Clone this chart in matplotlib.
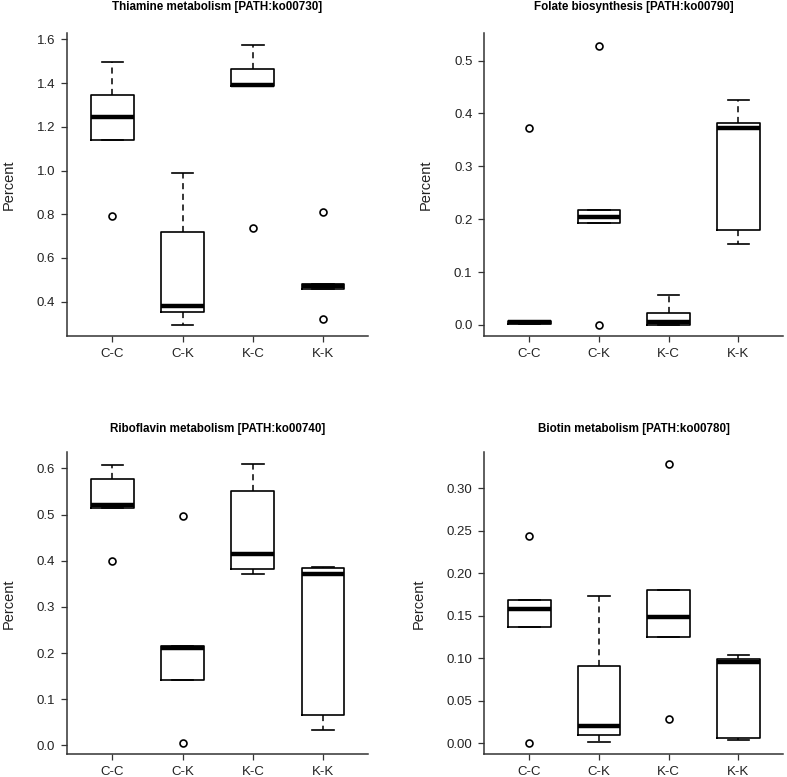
import matplotlib
matplotlib.use('Agg')
import matplotlib.pyplot as plt

plt.rcParams['font.family'] = ['Liberation Sans', 'DejaVu Sans']

groups = ['C-C', 'C-K', 'K-C', 'K-K']

titles = ['Thiamine metabolism [PATH:ko00730]',
          'Folate biosynthesis [PATH:ko00790]',
          'Riboflavin metabolism [PATH:ko00740]',
          'Biotin metabolism [PATH:ko00780]']

# box stats per panel: (whislo, q1, med, q3, whishi, fliers) for C-C, C-K, K-C, K-K
thiamine = [(1.14, 1.14, 1.245, 1.345, 1.495, [0.79]),
            (0.295, 0.355, 0.38, 0.72, 0.99, []),
            (1.385, 1.385, 1.39, 1.465, 1.575, [0.735]),
            (0.46, 0.46, 0.47, 0.48, 0.48, [0.81, 0.32])]
folate = [(0.001, 0.001, 0.005, 0.007, 0.007, [0.373]),
          (0.193, 0.193, 0.205, 0.217, 0.217, [0.528, 0.0]),
          (0.0, 0.0, 0.005, 0.023, 0.056, []),
          (0.153, 0.18, 0.372, 0.382, 0.425, [])]
riboflavin = [(0.515, 0.515, 0.52, 0.578, 0.607, [0.40]),
              (0.142, 0.142, 0.21, 0.215, 0.215, [0.497, 0.005]),
              (0.371, 0.383, 0.415, 0.551, 0.61, []),
              (0.034, 0.065, 0.371, 0.384, 0.386, [])]
biotin = [(0.137, 0.137, 0.158, 0.168, 0.168, [0.244, 0.0]),
          (0.002, 0.01, 0.02, 0.091, 0.173, []),
          (0.125, 0.125, 0.148, 0.18, 0.18, [0.328, 0.029]),
          (0.004, 0.006, 0.095, 0.099, 0.104, [])]

panel_data = [thiamine, folate, riboflavin, biotin]
y_limits = [(0.243, 1.629), (-0.0208, 0.552), (-0.0195, 0.635), (-0.0129, 0.342)]
y_ticks = [[0.4, 0.6, 0.8, 1.0, 1.2, 1.4, 1.6],
           [0.0, 0.1, 0.2, 0.3, 0.4, 0.5],
           [0.0, 0.1, 0.2, 0.3, 0.4, 0.5, 0.6],
           [0.0, 0.05, 0.10, 0.15, 0.20, 0.25, 0.30]]
y_fmt = ['%.1f', '%.1f', '%.1f', '%.2f']

W, H = 787, 777
fig = plt.figure(figsize=(W / 100, H / 100), dpi=100)

# axes boxes in pixels: left, right, top, bottom
px_boxes = [(66.7, 368, 33, 336), (484, 783, 33, 336),
            (66.7, 368, 452.3, 754.3), (484, 783, 452.3, 754.3)]

for i in range(4):
    l, r, t, b = px_boxes[i]
    ax = fig.add_axes([l / W, 1 - b / H, (r - l) / W, (b - t) / H])
    stats = []
    for g, (lo, q1, med, q3, hi, fl) in zip(groups, panel_data[i]):
        stats.append(dict(label=g, whislo=lo, q1=q1, med=med, q3=q3, whishi=hi, fliers=fl))
    ax.bxp(stats, positions=[1, 2, 3, 4], widths=0.61, showfliers=True,
           boxprops=dict(color='black', linewidth=1.2),
           medianprops=dict(color='black', linewidth=3.2, solid_capstyle='butt'),
           whiskerprops=dict(color='black', linewidth=1.1, linestyle=(0, (4, 3))),
           capprops=dict(color='black', linewidth=1.2),
           flierprops=dict(marker='o', markerfacecolor='none', markeredgecolor='black',
                           markersize=5, markeredgewidth=1.2))
    ax.set_xlim(0.35, 4.64)
    ax.set_ylim(*y_limits[i])
    ax.set_yticks(y_ticks[i])
    ax.set_yticklabels([y_fmt[i] % v for v in y_ticks[i]])
    ax.set_xticks([1, 2, 3, 4])
    ax.set_xticklabels(groups)
    for s in ['top', 'right']:
        ax.spines[s].set_visible(False)
    for s in ['left', 'bottom']:
        ax.spines[s].set_color('#333333')
        ax.spines[s].set_linewidth(1.1)
    ax.tick_params(axis='both', direction='out', length=4.3, width=0.9, color='#333333',
                   labelsize=9.5, labelcolor='#222222', pad=4)
    ax.set_ylabel('Percent', fontsize=10.5, color='#222222', labelpad=15)
    ax.set_title(titles[i], fontsize=8.4, fontweight='bold', pad=(16.5 if i < 2 else 14.5))

fig.savefig('out.png', dpi=100)
